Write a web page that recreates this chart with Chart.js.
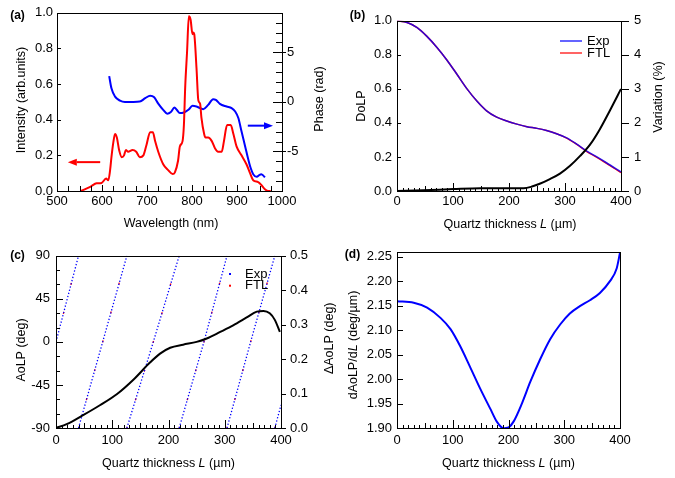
<!DOCTYPE html>
<html>
<head>
<meta charset="utf-8">
<script src="https://cdn.jsdelivr.net/npm/chart.js@4.4.1/dist/chart.umd.min.js"></script>
<style>
  html, body { margin: 0; padding: 0; background: #fff; }
  #wrap { position: relative; width: 675px; height: 478px; }
  canvas { position: absolute; }
</style>
</head>
<body>
<div id="wrap">
  <canvas id="chartA" width="337" height="239" style="left:0;top:0"></canvas>
  <canvas id="chartB" width="338" height="239" style="left:337px;top:0"></canvas>
  <canvas id="chartC" width="337" height="239" style="left:0;top:239px"></canvas>
  <canvas id="chartD" width="338" height="239" style="left:337px;top:239px"></canvas>
</div>
<script>
// (a) スペクトル強度と位相
const intensityNm = [553, 575, 588, 599, 609, 614, 618, 621, 625, 629, 633, 638, 644, 649, 653, 658, 668, 676, 684, 692,
  699, 707, 713, 718, 725, 736, 747, 757, 762, 769, 773, 779, 782, 785, 789, 793, 797, 801, 803, 805,
  810, 814, 818, 821, 827, 830, 836, 844, 851, 858, 866, 871, 878, 886, 892, 899, 910, 921, 929, 936,
  947, 954, 962, 970, 975];
const intensity = [0, 0.025, 0.043, 0.045, 0.07, 0.06, 0.117, 0.19, 0.27, 0.32, 0.30, 0.23, 0.19, 0.20, 0.23, 0.22, 0.23, 0.22, 0.19, 0.20,
  0.26, 0.33, 0.33, 0.28, 0.22, 0.15, 0.117, 0.095, 0.105, 0.17, 0.25, 0.28, 0.37, 0.59, 0.78, 0.98, 0.96, 0.88, 0.89, 0.88,
  0.69, 0.51, 0.49, 0.41, 0.32, 0.30, 0.30, 0.28, 0.24, 0.22, 0.22, 0.28, 0.37, 0.37, 0.32, 0.25, 0.20, 0.15, 0.10, 0.06,
  0.05, 0.034, 0.01, 0, 0];
const phaseNm = [616, 621, 629, 640, 651, 670, 684, 696, 707, 716, 725, 736, 745, 753, 761, 766, 773, 782, 792, 801,
  810, 825, 836, 847, 853, 862, 877, 888, 896, 903, 910, 918, 925, 930, 936, 944, 950, 954, 959, 962];
const phase = [2.6, 1.37, 0.53, 0.13, 0, 0, 0.03, 0.37, 0.63, 0.47, -0.17, -0.8, -1.2, -1.03, -0.57, -0.8, -1.13, -1.07, -0.8, -0.4,
  -0.47, -0.73, -0.3, 0.27, 0.2, -0.2, -0.47, -0.63, -0.97, -1.63, -2.97, -4.47, -5.8, -6.63, -7.3, -7.57, -7.37, -7.3, -7.47, -7.63];
const phaseTicks = [-5, 0, 5];

// (b) DoLP と変動
const dolpThick = [0, 18, 36, 53, 71, 89, 107, 125, 143, 160, 178, 196, 214, 232, 250, 267, 285, 303, 321, 339, 357, 374, 400];
const dolpExp = [1.0, 0.99, 0.96, 0.91, 0.845, 0.77, 0.686, 0.60, 0.527, 0.471, 0.434, 0.411, 0.393, 0.378, 0.368, 0.355, 0.336, 0.312, 0.275, 0.234, 0.20, 0.166, 0.112];
const dolpFtl = [1.0, 0.99, 0.96, 0.91, 0.845, 0.77, 0.686, 0.60, 0.527, 0.471, 0.434, 0.411, 0.393, 0.378, 0.368, 0.355, 0.336, 0.311, 0.274, 0.232, 0.198, 0.163, 0.108];
const variationThick = [0, 47, 101, 149, 196, 226, 241, 256, 273, 291, 309, 327, 345, 362, 380, 400];
const variation = [0, 0.02, 0.056, 0.08, 0.08, 0.08, 0.13, 0.22, 0.35, 0.51, 0.74, 1.03, 1.37, 1.81, 2.36, 3.0];

// (c) AoLP（折り返しごとに null で区切る）と ΔAoLP
const aolpThick = [0, 40, 40, 40, 83, 126, 126, 126, 173, 219, 219, 219, 263, 304, 304, 304, 346, 389, 389, 389, 400];
const aolpExp = [0, 90, null, -90, 0, 90, null, -90, 0, 90, null, -90, 0, 90, null, -90, 0, 90, null, -90, -66];
const aolpFtl = [0, 90, null, -90, 0, 90, null, -90, 0, 90, null, -90, 0, 90, null, -90, 0, 90, null, -90, -66];
const deltaThick = [0, 19, 49, 78, 108, 138, 167, 185, 203, 226, 250, 268, 292, 315, 339, 357, 369, 380, 389, 398];
const deltaAolp = [0, 0.011, 0.038, 0.066, 0.098, 0.141, 0.19, 0.216, 0.233, 0.242, 0.25, 0.26, 0.279, 0.298, 0.321, 0.338, 0.34, 0.333, 0.314, 0.279];

// (d) dAoLP/dL
const slopeThick = [0, 30, 54, 78, 96, 113, 131, 149, 167, 179, 191, 200, 209, 224, 239, 257, 275, 293, 310, 328, 346, 364, 382, 394, 400];
const slope = [2.159, 2.156, 2.146, 2.125, 2.102, 2.068, 2.025, 1.981, 1.94, 1.913, 1.899, 1.901, 1.913, 1.95, 1.994, 2.041, 2.082, 2.112, 2.134, 2.149, 2.161, 2.176, 2.2, 2.226, 2.258];
const slopeTicks = [1.90, 1.95, 2.00, 2.05, 2.10, 2.15, 2.20, 2.25];

const FONT = '"Liberation Sans", Arial, sans-serif';
Chart.defaults.font.family = FONT;
Chart.defaults.font.size = 13;
Chart.defaults.color = '#000';

function pts(xs, ys) {
  return xs.map((x, i) => ({ x: x, y: ys[i] }));
}

// 枠線
const framePlugin = {
  id: 'frame',
  afterDatasetsDraw(chart) {
    const { ctx, chartArea: a } = chart;
    ctx.save();
    ctx.strokeStyle = '#000';
    ctx.lineWidth = 1;
    ctx.strokeRect(Math.round(a.left) + 0.5, Math.round(a.top) + 0.5,
      Math.round(a.right - a.left), Math.round(a.bottom - a.top));
    ctx.restore();
  }
};

// 内向き/外向きの目盛り線
const tickPlugin = {
  id: 'tickMarks',
  afterDatasetsDraw(chart, args, opts) {
    const { ctx, chartArea: a } = chart;
    ctx.save();
    ctx.strokeStyle = '#000';
    ctx.lineWidth = 1;
    ctx.beginPath();
    (opts.list || []).forEach(t => {
      const s = chart.scales[t.axis];
      const inL = t.inLen || 0, outL = t.outLen || 0;
      for (let i = Math.ceil(s.min / t.step - 1e-6); i * t.step <= s.max + 1e-9; i++) {
        const p = Math.round(s.getPixelForValue(i * t.step)) + 0.5;
        if (s.position === 'bottom') {
          ctx.moveTo(p, a.bottom + outL); ctx.lineTo(p, a.bottom - inL);
        } else if (s.position === 'left') {
          ctx.moveTo(a.left - outL, p); ctx.lineTo(a.left + inL, p);
        } else {
          ctx.moveTo(a.right + outL, p); ctx.lineTo(a.right - inL, p);
        }
      }
    });
    ctx.stroke();
    ctx.restore();
  }
};

// 軸タイトル・パネル記号（斜体を混ぜられるように自前で描く）
const textPlugin = {
  id: 'texts',
  afterDraw(chart, args, opts) {
    const ctx = chart.ctx;
    (opts.list || []).forEach(t => {
      ctx.save();
      ctx.translate(t.x, t.y);
      ctx.rotate(t.rot || 0);
      ctx.fillStyle = '#000';
      ctx.textBaseline = 'middle';
      ctx.textAlign = 'left';
      const fonts = t.parts.map(p => (p[1] || '') + ' ' + (t.size || 12.5) + 'px ' + FONT);
      let total = 0;
      const widths = t.parts.map((p, i) => {
        ctx.font = fonts[i];
        const w = ctx.measureText(p[0]).width;
        total += w;
        return w;
      });
      let x = -total / 2;
      t.parts.forEach((p, i) => {
        ctx.font = fonts[i];
        ctx.fillText(p[0], x, 0);
        x += widths[i];
      });
      ctx.restore();
    });
  }
};

// 矢印（軸の値で位置を指定）
const arrowPlugin = {
  id: 'arrows',
  afterDatasetsDraw(chart, args, opts) {
    const ctx = chart.ctx;
    (opts.list || []).forEach(r => {
      const xs = chart.scales[r.xAxis], ys = chart.scales[r.yAxis];
      const x0 = xs.getPixelForValue(r.from[0]), y0 = ys.getPixelForValue(r.from[1]);
      const x1 = xs.getPixelForValue(r.to[0]), y1 = ys.getPixelForValue(r.to[1]);
      const ang = Math.atan2(y1 - y0, x1 - x0);
      const hl = 9, hw = 3.5;
      const bx = x1 - hl * Math.cos(ang), by = y1 - hl * Math.sin(ang);
      ctx.save();
      ctx.strokeStyle = r.color;
      ctx.fillStyle = r.color;
      ctx.lineWidth = 2;
      ctx.beginPath();
      ctx.moveTo(x0, y0);
      ctx.lineTo(bx, by);
      ctx.stroke();
      ctx.beginPath();
      ctx.moveTo(x1, y1);
      ctx.lineTo(bx + hw * Math.sin(ang), by - hw * Math.cos(ang));
      ctx.lineTo(bx - hw * Math.sin(ang), by + hw * Math.cos(ang));
      ctx.closePath();
      ctx.fill();
      ctx.restore();
    });
  }
};

// 凡例
const keyPlugin = {
  id: 'key',
  afterDraw(chart, args, opts) {
    const ctx = chart.ctx;
    (opts.items || []).forEach(it => {
      ctx.save();
      ctx.fillStyle = it.color;
      ctx.strokeStyle = it.color;
      if (it.kind === 'line') {
        ctx.lineWidth = 2;
        ctx.beginPath();
        ctx.moveTo(it.x0, it.y);
        ctx.lineTo(it.x1, it.y);
        ctx.stroke();
      } else {
        ctx.fillRect(it.x0 - 1, it.y - 1, 2, 2);
      }
      ctx.fillStyle = '#000';
      ctx.font = '13px ' + FONT;
      ctx.textBaseline = 'middle';
      ctx.textAlign = 'left';
      ctx.fillText(it.label, it.tx, it.y);
      ctx.restore();
    });
  }
};

Chart.register(framePlugin, tickPlugin, textPlugin, arrowPlugin, keyPlugin);

// 軸設定
function axis(pos, min, max, size, tickOpts, fixedTicks) {
  const a = {
    type: 'linear',
    position: pos,
    min: min,
    max: max,
    grid: { display: false, drawTicks: false },
    border: { display: false },
    ticks: Object.assign({ maxRotation: 0, autoSkip: false, color: '#000', font: { size: 13 } }, tickOpts),
    afterFit: s => {
      if (pos === 'bottom') s.height = size; else s.width = size;
    }
  };
  if (fixedTicks) {
    a.afterBuildTicks = s => { s.ticks = fixedTicks.map(v => ({ value: v })); };
  }
  return a;
}

function baseOptions(scales, padding, plugins) {
  return {
    responsive: false,
    animation: false,
    events: [],
    layout: { padding: padding },
    elements: { point: { radius: 0 } },
    scales: scales,
    plugins: Object.assign({ legend: { display: false }, tooltip: { enabled: false } }, plugins)
  };
}

const plain = v => String(v);
const fix1 = v => Number(v).toFixed(1);
const fix2 = v => Number(v).toFixed(2);
const thickTitle = [['Quartz thickness ', ''], ['L', 'italic'], [' (µm)', '']];
const thickTickMarks = [
  { axis: 'x', step: 10, inLen: 3 },
  { axis: 'x', step: 50, inLen: 5 },
  { axis: 'x', step: 100, inLen: 8 }
];

// (a)
new Chart(document.getElementById('chartA'), {
  type: 'line',
  data: {
    datasets: [
      { label: 'Intensity', data: pts(intensityNm, intensity), yAxisID: 'y', borderColor: '#ff0000', borderWidth: 2, cubicInterpolationMode: 'monotone' },
      { label: 'Phase', data: pts(phaseNm, phase), yAxisID: 'yPhase', borderColor: '#0000ff', borderWidth: 2, cubicInterpolationMode: 'monotone' }
    ]
  },
  options: baseOptions({
    x: axis('bottom', 500, 1000, 48, { stepSize: 100, padding: 3, callback: plain }),
    y: axis('left', 0, 1, 57, { stepSize: 0.2, padding: 4, callback: fix1 }),
    yPhase: axis('right', -9, 9, 55, { padding: 5, callback: plain }, phaseTicks)
  }, { top: 12, right: 0, bottom: 0, left: 0 }, {
    tickMarks: { list: [
      { axis: 'x', step: 25, inLen: 5 },
      { axis: 'x', step: 100, inLen: 6 },
      { axis: 'y', step: 0.2, inLen: 4 },
      { axis: 'yPhase', step: 1, inLen: 6 },
      { axis: 'yPhase', step: 5, inLen: 9, outLen: 4 }
    ] },
    texts: { list: [
      { parts: [['Wavelength (nm)', '']], x: 171, y: 223.5 },
      { parts: [['Intensity (arb.units)', '']], x: 22, y: 100, rot: -Math.PI / 2 },
      { parts: [['Phase (rad)', '']], x: 320, y: 99, rot: -Math.PI / 2 },
      { parts: [['(a)', 'bold']], x: 17.5, y: 16, size: 12 }
    ] },
    arrows: { list: [
      { xAxis: 'x', yAxis: 'y', from: [596, 0.162], to: [524, 0.162], color: '#ff0000' },
      { xAxis: 'x', yAxis: 'yPhase', from: [924, -2.4], to: [980, -2.4], color: '#0000ff' }
    ] }
  })
});

// (b)
new Chart(document.getElementById('chartB'), {
  type: 'line',
  data: {
    datasets: [
      { label: 'Variation', data: pts(variationThick, variation), yAxisID: 'yVar', borderColor: '#000000', borderWidth: 2, cubicInterpolationMode: 'monotone' },
      { label: 'Exp', data: pts(dolpThick, dolpExp), yAxisID: 'y', borderColor: 'rgba(0,0,255,0.8)', borderWidth: 1.5, cubicInterpolationMode: 'monotone' },
      { label: 'FTL', data: pts(dolpThick, dolpFtl), yAxisID: 'y', borderColor: '#ff0000', borderWidth: 1.5, cubicInterpolationMode: 'monotone' }
    ]
  },
  options: baseOptions({
    x: axis('bottom', 0, 400, 48, { stepSize: 100, padding: 3, callback: plain }),
    y: axis('left', 0, 1, 60, { stepSize: 0.2, padding: 5, callback: fix1 }),
    yVar: axis('right', 0, 5, 54, { stepSize: 1, padding: 13, callback: plain })
  }, { top: 12, right: 0, bottom: 0, left: 0 }, {
    tickMarks: { list: thickTickMarks.concat([
      { axis: 'y', step: 0.2, inLen: 4 },
      { axis: 'yVar', step: 1, outLen: 8 }
    ]) },
    texts: { list: [
      { parts: thickTitle, x: 173, y: 225 },
      { parts: [['DoLP', '']], x: 24.7, y: 106, rot: -Math.PI / 2 },
      { parts: [['Variation (%)', '']], x: 321.3, y: 97, rot: -Math.PI / 2 },
      { parts: [['(b)', 'bold']], x: 20.5, y: 16, size: 12 }
    ] },
    key: { items: [
      { label: 'Exp', kind: 'line', color: 'rgb(100,100,255)', x0: 223, x1: 245, tx: 250, y: 41 },
      { label: 'FTL', kind: 'line', color: 'rgb(255,100,100)', x0: 223, x1: 245, tx: 250, y: 53 }
    ] }
  })
});

// (c)
new Chart(document.getElementById('chartC'), {
  type: 'line',
  data: {
    datasets: [
      { label: 'ΔAoLP', data: pts(deltaThick, deltaAolp), yAxisID: 'yDelta', borderColor: '#000000', borderWidth: 2, cubicInterpolationMode: 'monotone' },
      { label: 'Exp', data: pts(aolpThick, aolpExp), yAxisID: 'y', borderColor: '#0000ff', borderWidth: 1.3, borderDash: [1.3, 2], spanGaps: false },
      { label: 'FTL', data: pts(aolpThick, aolpFtl), yAxisID: 'y', borderColor: '#ff0000', borderWidth: 1.3, borderDash: [2, 28], borderDashOffset: 1, spanGaps: false }
    ]
  },
  options: baseOptions({
    x: axis('bottom', 0, 400, 50, { stepSize: 100, padding: 5, callback: plain }),
    y: axis('left', -90, 90, 56, { stepSize: 45, padding: 6, callback: plain }),
    yDelta: axis('right', 0, 0.5, 56, { stepSize: 0.1, padding: 9, callback: fix1 })
  }, { top: 12, right: 0, bottom: 0, left: 0 }, {
    tickMarks: { list: thickTickMarks.concat([
      { axis: 'y', step: 15, inLen: 4 },
      { axis: 'y', step: 45, inLen: 7 },
      { axis: 'yDelta', step: 0.1, outLen: 5 }
    ]) },
    texts: { list: [
      { parts: thickTitle, x: 168.5, y: 225 },
      { parts: [['AoLP (deg)', '']], x: 22, y: 111, rot: -Math.PI / 2 },
      { parts: [['ΔAoLP (deg)', '']], x: 330, y: 99.3, rot: -Math.PI / 2 },
      { parts: [['(c)', 'bold']], x: 17.5, y: 17, size: 12 }
    ] },
    key: { items: [
      { label: 'Exp', kind: 'dot', color: '#0000ff', x0: 230, tx: 245, y: 35 },
      { label: 'FTL', kind: 'dot', color: '#ff0000', x0: 230, tx: 245, y: 46.7 }
    ] }
  })
});

// (d)
new Chart(document.getElementById('chartD'), {
  type: 'line',
  data: {
    datasets: [
      { label: 'dAoLP/dL', data: pts(slopeThick, slope), yAxisID: 'y', borderColor: '#0000ff', borderWidth: 2, cubicInterpolationMode: 'monotone' }
    ]
  },
  options: baseOptions({
    x: axis('bottom', 0, 400, 50, { stepSize: 100, padding: 5, callback: plain }),
    y: axis('left', 1.90, 2.26, 60, { padding: 5, callback: fix2 }, slopeTicks)
  }, { top: 12, right: 55, bottom: 0, left: 0 }, {
    tickMarks: { list: thickTickMarks.concat([
      { axis: 'y', step: 0.05, inLen: 6 }
    ]) },
    texts: { list: [
      { parts: thickTitle, x: 171.5, y: 225 },
      { parts: [['dAoLP/d', ''], ['L', 'italic'], [' (deg/µm)', '']], x: 16.3, y: 106, rot: -Math.PI / 2 },
      { parts: [['(d)', 'bold']], x: 15.5, y: 16, size: 12 }
    ] }
  })
});
</script>
</body>
</html>
